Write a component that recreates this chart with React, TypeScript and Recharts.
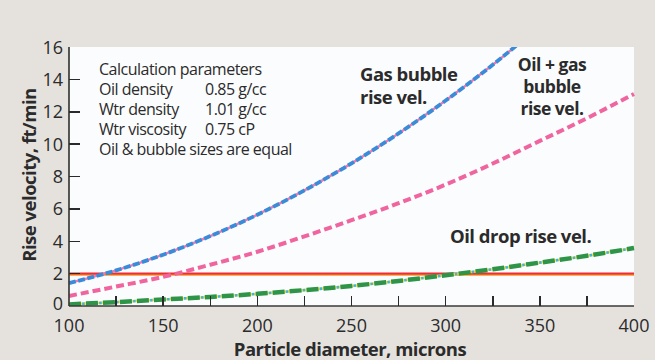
import React from 'react';
import {
  LineChart,
  Line,
  XAxis,
  YAxis,
  ReferenceLine,
} from 'recharts';

const diameters = [100, 125, 150, 175, 200, 225, 250, 275, 300, 325, 350, 375, 400];
const gasBubble = [1.41, 2.2, 3.17, 4.32, 5.64, 7.14, 8.81, 10.66, 12.69, 14.9, 17.3, null, null];
const oilGasBubble = [0.62, 1.2, 1.8, 2.55, 3.35, 4.3, 5.3, 6.35, 7.5, 8.8, 10.2, 11.6, 13.1];
const oilDrop = [0.1, 0.24, 0.4, 0.56, 0.75, 0.98, 1.24, 1.55, 1.9, 2.27, 2.68, 3.1, 3.58];
const limitVel = 2;

const xTicks = [100, 125, 150, 175, 200, 225, 250, 275, 300, 325, 350, 375, 400];
const yTicks = [0, 2, 4, 6, 8, 10, 12, 14, 16];

const params = [
  ['Oil density', '0.85 g/cc'],
  ['Wtr density', '1.01 g/cc'],
  ['Wtr viscosity', '0.75 cP'],
];

const data = diameters.map((d, i) => ({
  d,
  gas: gasBubble[i],
  oilGas: oilGasBubble[i],
  oil: oilDrop[i],
}));

const FONT = '"Open Sans", sans-serif';
const INK = '#2b2b2b';
const FRAME = { stroke: '#3a3a3a', strokeWidth: 1.7 };

// plot box (chart margins + axis sizes)
const PLOT = { left: 69, top: 47, width: 565, height: 259 };

function XTick(props: any) {
  const { x, y, payload } = props;
  const v = payload.value;
  if (v % 50 !== 0) return <g />;
  return (
    <text x={x} y={y + 26} textAnchor="middle" fontFamily={FONT} fontSize={18} fill={INK}>
      {v}
    </text>
  );
}

function YTick(props: any) {
  const { x, y, payload } = props;
  const v = payload.value;
  return (
    <text x={x - 6} y={y + (v === 0 ? 3.5 : 6.5)} textAnchor="end" fontFamily={FONT} fontSize={18} fill={INK}>
      {v}
    </text>
  );
}

function LimitLine(p: any) {
  return (
    <g>
      <line x1={p.x1} x2={p.x2} y1={p.y1 + 1.6} y2={p.y2 + 1.6} stroke="#f6b83a" strokeWidth={1.6} />
      <line x1={p.x1} x2={p.x2} y1={p.y1} y2={p.y2} stroke="#ee2d36" strokeWidth={2.4} />
    </g>
  );
}

export default function App() {
  return (
    <div style={s.page}>
      <div style={s.plotBg} />
      <div style={{ position: 'absolute', left: 0, top: 0 }}>
        <LineChart
          width={655}
          height={360}
          data={data}
          margin={{ top: 47, right: 21, bottom: 0, left: 9 }}
        >
          <XAxis
            dataKey="d"
            type="number"
            domain={[100, 400]}
            ticks={xTicks}
            tick={XTick}
            tickSize={0}
            tickMargin={0}
            tickLine={false}
            axisLine={FRAME}
            height={54}
            interval={0}
          />
          <XAxis
            xAxisId="top"
            orientation="top"
            dataKey="d"
            type="number"
            domain={[100, 400]}
            tick={false}
            tickLine={false}
            axisLine={FRAME}
            height={0}
          />
          <YAxis
            type="number"
            domain={[0, 16]}
            ticks={yTicks}
            tick={YTick}
            tickSize={0}
            tickMargin={0}
            tickLine={false}
            axisLine={FRAME}
            width={60}
            interval={0}
            allowDataOverflow
          />
          <YAxis
            yAxisId="right"
            orientation="right"
            type="number"
            domain={[0, 16]}
            tick={false}
            tickLine={false}
            axisLine={FRAME}
            width={0}
          />
          <ReferenceLine y={limitVel} shape={LimitLine} />
          {/* oil drop: green dash with cyan/yellow dot */}
          <Line type="monotone" dataKey="oil" stroke="#f2e24a" strokeWidth={2.6} dot={false} isAnimationActive={false} />
          <Line
            type="monotone"
            dataKey="oil"
            stroke="#3cb4e4"
            strokeWidth={2.6}
            strokeDasharray="2.5 14.5"
            strokeDashoffset={-13.2}
            dot={false}
            isAnimationActive={false}
          />
          <Line
            type="monotone"
            dataKey="oil"
            stroke="#2e9448"
            strokeWidth={4.5}
            strokeDasharray="12 5"
            dot={false}
            isAnimationActive={false}
          />
          {/* oil + gas bubble */}
          <Line
            type="monotone"
            dataKey="oilGas"
            stroke="#f0649f"
            strokeWidth={4}
            strokeDasharray="8 4"
            dot={false}
            isAnimationActive={false}
          />
          {/* gas bubble: blue dash over pink */}
          <Line type="monotone" dataKey="gas" stroke="#ee78b4" strokeWidth={2.4} dot={false} isAnimationActive={false} />
          <Line
            type="monotone"
            dataKey="gas"
            stroke="#3a8cd8"
            strokeWidth={3.8}
            strokeDasharray="7 2.5"
            dot={false}
            isAnimationActive={false}
          />
        </LineChart>
      </div>

      {/* inside tick marks on the frame */}
      {xTicks.slice(1, -1).map((t) => (
        <div
          key={'xt' + t}
          style={{
            ...s.tick,
            left: PLOT.left + (PLOT.width * (t - 100)) / 300 - 0.75,
            top: PLOT.top + PLOT.height - 10,
            width: 1.5,
            height: 10,
          }}
        />
      ))}
      {yTicks.slice(1, -1).map((t) => (
        <div
          key={'yt' + t}
          style={{
            ...s.tick,
            left: PLOT.left,
            top: PLOT.top + PLOT.height - (PLOT.height * t) / 16 - 0.75,
            width: 11,
            height: 1.5,
          }}
        />
      ))}

      <div style={{ ...s.note, left: 99, top: 59 }}>Calculation parameters</div>
      {params.map(([k, v], i) => (
        <React.Fragment key={k}>
          <div style={{ ...s.note, left: 99, top: 79 + i * 20 }}>{k}</div>
          <div style={{ ...s.note, left: 205, top: 79 + i * 20 }}>{v}</div>
        </React.Fragment>
      ))}
      <div style={{ ...s.note, left: 99, top: 139 }}>Oil &amp; bubble sizes are equal</div>

      <div style={{ ...s.label, left: 360, top: 62, textAlign: 'left' }}>
        Gas bubble
        <br />
        rise vel.
      </div>
      <div style={{ ...s.label, left: 492, width: 120, top: 53, fontSize: 17.5, lineHeight: '22px', textAlign: 'center' }}>
        Oil + gas
        <br />
        bubble
        <br />
        rise vel.
      </div>
      <div style={{ ...s.label, left: 450, top: 224 }}>Oil drop rise vel.</div>

      <div style={s.xTitle}>Particle diameter, microns</div>
      <div style={s.yTitle}>Rise velocity, ft/min</div>
    </div>
  );
}

const s: Record<string, React.CSSProperties> = {
  page: {
    position: 'absolute',
    left: 0,
    top: 0,
    width: 655,
    height: 360,
    background: '#e5e2de',
    overflow: 'hidden',
  },
  plotBg: {
    position: 'absolute',
    left: 69,
    top: 47,
    width: 565,
    height: 259,
    background: '#fbfcfe',
  },
  tick: {
    position: 'absolute',
    background: '#2a2a2a',
  },
  note: {
    position: 'absolute',
    fontFamily: FONT,
    fontSize: 16,
    lineHeight: '20px',
    color: INK,
    whiteSpace: 'nowrap',
    letterSpacing: -0.5,
  },
  label: {
    position: 'absolute',
    fontFamily: FONT,
    fontSize: 18.5,
    fontWeight: 700,
    lineHeight: '23px',
    color: INK,
    whiteSpace: 'nowrap',
    letterSpacing: -0.5,
  },
  xTitle: {
    position: 'absolute',
    left: 150,
    width: 400,
    top: 337,
    textAlign: 'center',
    fontFamily: FONT,
    fontSize: 18.5,
    fontWeight: 700,
    lineHeight: '24px',
    color: INK,
    letterSpacing: -0.5,
    whiteSpace: 'nowrap',
  },
  yTitle: {
    position: 'absolute',
    left: 29 - 110,
    width: 220,
    top: 175 - 12,
    textAlign: 'center',
    fontFamily: FONT,
    fontSize: 18.5,
    fontWeight: 700,
    lineHeight: '24px',
    color: INK,
    letterSpacing: -0.5,
    whiteSpace: 'nowrap',
    transform: 'rotate(-90deg)',
  },
};
